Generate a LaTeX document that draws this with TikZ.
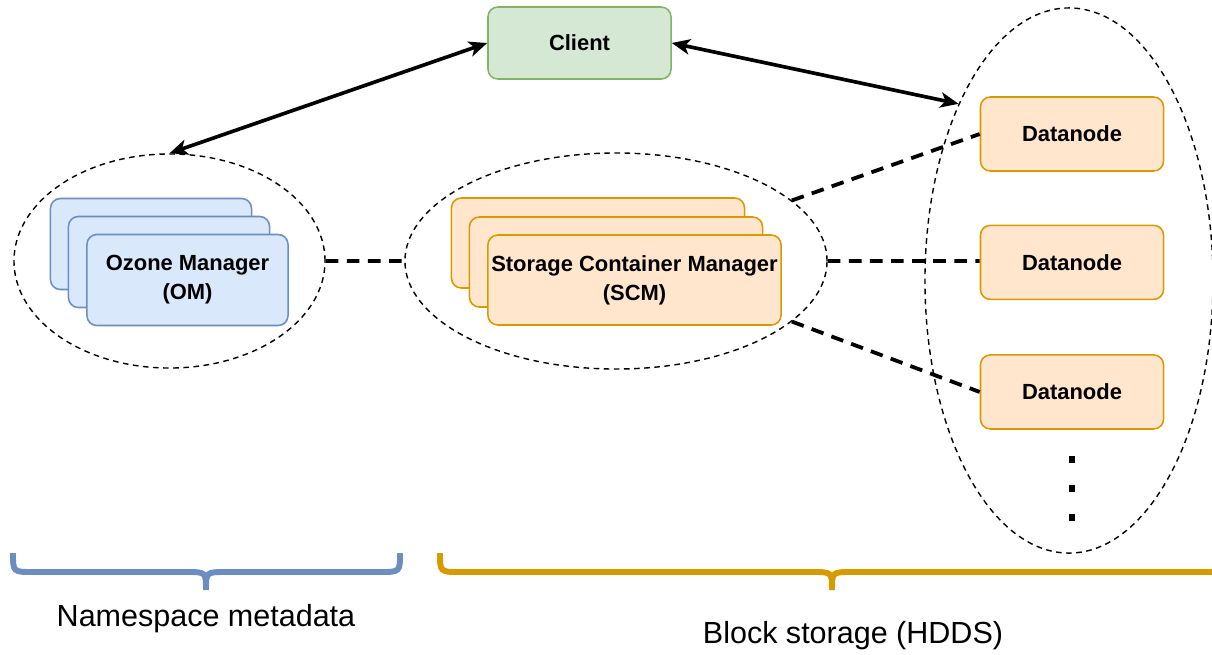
\documentclass[tikz,border=0pt]{standalone}
\usepackage{fontspec}
\setmainfont{Liberation Sans}
\usetikzlibrary{shapes.geometric, arrows.meta, positioning}

\definecolor{clientfill}{HTML}{D5E8D4}
\definecolor{clientline}{HTML}{82B366}
\definecolor{omfill}{HTML}{DAE8FC}
\definecolor{omline}{HTML}{6C8EBF}
\definecolor{scmfill}{HTML}{FFE6CC}
\definecolor{scmline}{HTML}{D79B00}

\tikzset{
    box/.style={draw, rounded corners=7pt, line width=1.1pt, inner sep=2pt, align=center,
        font=\fontsize{15.6}{20.6}\selectfont\bfseries},
    ombox/.style={box, fill=omfill, draw=omline, minimum width=5.025cm, minimum height=2.275cm},
    scmbox/.style={box, fill=scmfill, draw=scmline, minimum width=7.325cm, minimum height=2.25cm},
    dnbox/.style={box, fill=scmfill, draw=scmline, minimum width=4.575cm, minimum height=1.85cm},
    group/.style={ellipse, draw, line width=1pt, dash pattern=on 4pt off 3.2pt, inner sep=0pt},
    link/.style={line width=2.7pt, dash pattern=on 9pt off 6pt},
    access/.style={{Stealth[length=13pt, width=11pt, inset=3.5pt]}-{Stealth[length=13pt, width=11pt, inset=3.5pt]}, line width=2.6pt},
    brace/.style={line width=4.2pt},
    dotmark/.style={fill, inner sep=0pt, minimum size=0.16cm},
    caption/.style={anchor=base, font=\fontsize{21.7}{26}\selectfont}
}

\begin{document}
\begin{tikzpicture}[x=0.025cm, y=-0.025cm]
    \useasboundingbox (0,0) rectangle (1212,654);

    % dashed groups
    \node[group, minimum width=7.775cm, minimum height=5.35cm] (omgroup) at (169.5,261) {};
    \node[group, minimum width=10.55cm, minimum height=5.4cm] (scmgroup) at (616,261) {};
    \node[group, minimum width=7.2cm, minimum height=13.625cm] (dngroup) at (1069,280.5) {};

    \node[box, fill=clientfill, draw=clientline, minimum width=4.575cm, minimum height=1.8cm] (client) at (579.5,43) {Client};

    % ozone manager stack
    \node[ombox] (om3) at (151,244) {};
    \node[ombox] (om2) at (169,262) {};
    \node[ombox] (om1) at (187.5,280) {Ozone Manager\\(OM)};

    % scm stack
    \node[scmbox] (scm3) at (598,243) {};
    \node[scmbox] (scm2) at (616,262) {};
    \node[scmbox] (scm1) at (634.5,280) {Storage Container Manager\\(SCM)};

    % datanodes
    \node[dnbox] (dn1) at (1072,134) {Datanode};
    \node[dnbox, below=1.32cm of dn1] (dn2) {Datanode};
    \node[dnbox, below=1.35cm of dn2] (dn3) {Datanode};
    \node[dotmark, below=0.66cm of dn3] (dot1) {};
    \node[dotmark, below=0.55cm of dot1] (dot2) {};
    \node[dotmark, below=0.55cm of dot2] (dot3) {};

    \draw[access] (client.west) to (omgroup.north);
    \draw[access] (client.east) to (dngroup.122);
    \draw[link] (omgroup.east) to (scmgroup.west)
        (scmgroup.19) to (dn1.west)
        (scmgroup.east) to (scmgroup.east -| dn2.west)
        (scmgroup.-19) to (dn3.west);

    % braces
    \draw[brace, draw=omline] (13,553) .. controls (13,572) .. (33,572) -- (186,572) .. controls (206,572) .. (206,590)
        (206,590) .. controls (206,572) .. (226,572) -- (380,572) .. controls (400,572) .. (400,553);
    \draw[brace, draw=scmline] (440,553) .. controls (440,572) .. (460,572) -- (812,572) .. controls (832,572) .. (832,590)
        (832,590) .. controls (832,572) .. (852,572) -- (1204,572) .. controls (1224,572) .. (1224,553);
    \node[caption] (nslabel) at (206,626) {Namespace metadata};
    \node[caption] (bslabel) at (853,643) {Block storage (HDDS)};
\end{tikzpicture}
\end{document}
